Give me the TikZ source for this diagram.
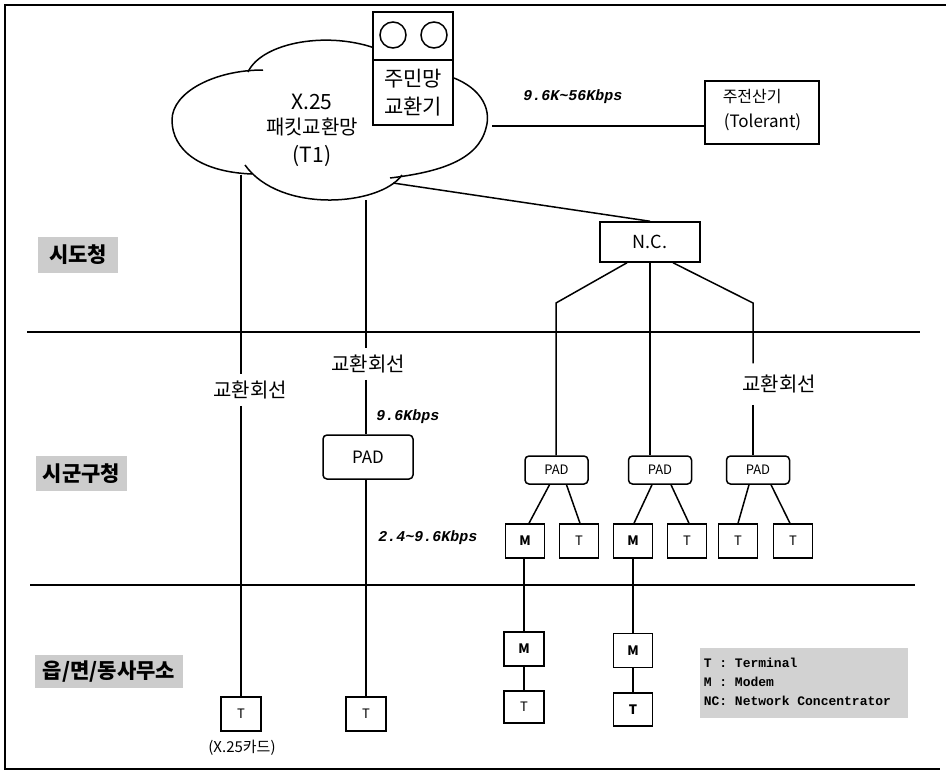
\documentclass[tikz,border=0pt]{standalone}
\usepackage{fontspec}
\setmainfont{Noto Sans CJK KR}
\newfontfamily\ratefont{Liberation Mono}
\newfontfamily\legfont{Liberation Mono}
\newcommand\fsz[1]{\fontsize{#1}{#1}\selectfont}
\usetikzlibrary{calc}
\begin{document}
\begin{tikzpicture}[x=1pt,y=-1pt, line width=1.5pt,
  box/.style={draw, inner sep=0pt, fill=white},
  rbox/.style={draw, rounded corners=4pt, inner sep=0pt, fill=white},
  sq/.style={draw, inner sep=0pt, minimum width=39pt, minimum height=34pt, font=\fsz{13}},
  smallpad/.style={rbox, minimum width=63pt, minimum height=28pt, font=\fsz{13}},
  lbl/.style={inner sep=0pt, font=\fsz{20}},
  rate/.style={inner sep=0pt, font=\ratefont\bfseries\itshape\fsz{15}},
  tier/.style={fill=gray!40, inner sep=0pt, font=\bfseries\fsz{21}},
]
\useasboundingbox (0,0) rectangle (946,772);
% frame
\draw (946,5) -- (5,5) -- (5,769) -- (940,769);
% tier separators
\coordinate (h1a) at (27,332); \coordinate (h1b) at (920,332);
\coordinate (h2a) at (30,585); \coordinate (h2b) at (915,585);
\draw (h1a) -- (h1b);
\draw (h2a) -- (h2b);

% tier labels
\node[tier, minimum width=80pt, minimum height=36pt] (tierA) at (78,255) {시도청};
\node[tier, minimum width=91pt, minimum height=35pt] (tierB) at (81.5,473.5) {시군구청};
\node[tier, minimum width=148pt, minimum height=33pt] (tierC) at (109,671.5) {읍/면/동사무소};

% cloud
\draw (172,120) .. controls (172,92) and (215,70) .. (263,70);
\draw (248,72) .. controls (262,42) and (330,30) .. (380,50);
\draw (445,75) .. controls (480,85) and (492,108) .. (486,128) .. controls (478,160) and (440,172) .. (390,178);
\draw (402,175) .. controls (380,206) and (280,214) .. (245,165);
\draw (252,174) .. controls (200,172) and (172,150) .. (172,120);
\node[inner sep=0pt, font=\fsz{21}] (cx1) at (312,102) {X.25};
\node[inner sep=0pt, font=\fsz{20}] (cx2) at (312,127) {패킷교환망};
\node[inner sep=0pt, font=\fsz{21}] (cx3) at (312,156) {(T1)};
\coordinate (cA) at (241,175);
\coordinate (cB) at (366,200);
\coordinate (cN) at (393,183);
\coordinate (cT) at (492,126);

% resident network switch
\node[box, minimum width=80pt, minimum height=113pt] (sw) at (413,68.5) {};
\draw (sw.west |- 0,60) -- (sw.east |- 0,60);
\node[draw, circle, minimum size=26pt, inner sep=0pt] (sc1) at (393,35) {};
\node[draw, circle, minimum size=26pt, inner sep=0pt] (sc2) at (434,35) {};
\node[inner sep=0pt, font=\fsz{21}] (sw1) at (413,79) {주민망};
\node[inner sep=0pt, font=\fsz{21}] (sw2) at (413,107) {교환기};

% main computer
\node[box, minimum width=114pt, minimum height=63pt] (tol) at (762,112.5) {};
\node[anchor=west, inner sep=0pt, font=\fsz{16}] (tolA) at (722,97) {주전산기};
\node[anchor=west, inner sep=0pt, font=\fsz{17}] (tolB) at (723,122) {(Tolerant)};
\draw (cT) -- (cT -| tol.west);
\node[rate] (r1) at (573,97) {9.6K\textasciitilde56Kbps};

% N.C.
\node[box, minimum width=100pt, minimum height=40pt, font=\fsz{18}] (nc) at (650,242) {N.C.};
\draw (cN) -- (nc.north);

% left column
\node[lbl, minimum height=30pt] (lab1) at (250,390) {교환회선};
\node[sq, minimum width=40pt] (ta) at (241,714) {T};
\node[inner sep=0pt, font=\fsz{15}] (xcard) at (242,748) {(X.25카드)};
\draw (cA) -- (lab1.north -| cA);
\draw (lab1.south -| cA) -- (ta.north -| cA);

% second column
\node[lbl, minimum height=30pt] (lab2) at (368,364) {교환회선};
\node[rbox, minimum width=90pt, minimum height=44pt, font=\fsz{17}] (pad0) at (368,457) {PAD};
\node[sq, minimum width=40pt] (tb) at (366,714) {T};
\node[rate] (r2) at (408,417) {9.6Kbps};
\node[rate] (r3) at (428,538) {2.4\textasciitilde9.6Kbps};
\draw (cB) -- (lab2.north -| cB);
\draw (lab2.south -| cB) -- (pad0.north -| cB);
\draw (pad0.south -| cB) -- (tb.north -| cB);

% PADs under N.C.
\node[smallpad] (pad1) at (556.5,470) {PAD};
\node[smallpad] (pad2) at (660,470) {PAD};
\node[smallpad] (pad3) at (758,470) {PAD};
\node[lbl, minimum height=40pt] (lab3) at (779,384) {교환회선};
\coordinate (bL) at (556,303);
\coordinate (bR) at (753,303);
\draw ([xshift=-23pt]nc.south) -- (bL) -- (bL |- pad1.north);
\draw (nc.south) -- (nc.south |- pad2.north);
\draw ([xshift=23pt]nc.south) -- (bR) -- (bR |- lab3.north);
\draw (bR |- lab3.south) -- (bR |- pad3.north);

% terminals / modems row
\node[sq] (m1) at (525,541) {\textbf{M}};
\node[sq] (t1) at (579,541) {T};
\node[sq] (m2) at (633,541) {\textbf{M}};
\node[sq] (t2) at (687,541) {T};
\node[sq] (t3) at (738,541) {T};
\node[sq] (t4) at (793,541) {T};
\draw ([xshift=-7pt]pad1.south) -- ([xshift=4pt]m1.north);
\draw ([xshift=10pt]pad1.south) -- ([xshift=1pt]t1.north);
\draw ([xshift=-8pt]pad2.south) -- ([xshift=1pt]m2.north);
\draw ([xshift=11pt]pad2.south) -- ([xshift=2pt]t2.north);
\draw ([xshift=-9pt]pad3.south) -- (t3.north);
\draw ([xshift=13pt]pad3.south) -- ([xshift=-3pt]t4.north);

% lower modems and terminals
\node[sq, minimum width=40pt] (m1b) at (524,649) {\textbf{M}};
\node[sq, minimum width=40pt, minimum height=32pt] (t1b) at (524,707) {T};
\node[sq] (m2b) at (633,650.5) {\textbf{M}};
\node[sq, minimum height=33pt] (t2b) at (633,709.5) {\textbf{T}};
\draw (m1.south -| m1b.north) -- (m1b.north);
\draw (m1b.south) -- (t1b.north);
\draw (m2.south) -- (m2b.north);
\draw (m2b.south) -- (t2b.north);

% legend
\node[fill=gray!35, inner sep=0pt, minimum width=208pt, minimum height=70pt] (leg) at (804,683) {};
\node[anchor=west, inner sep=0pt, align=left, font=\legfont\bfseries\fontsize{13}{19}\selectfont] (legtxt) at (703,682) {T : Terminal\\M : Modem\\NC: Network Concentrator};
\end{tikzpicture}
\end{document}
